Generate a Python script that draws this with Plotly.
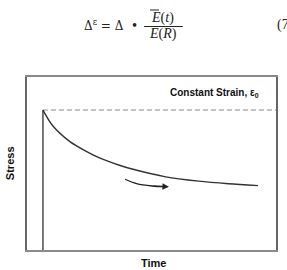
import plotly.graph_objects as go

# Data (arbitrary units: time 0-100, stress 0-100)
time = [6.4, 10.5, 17.1, 23.8, 29.1, 37.1, 42.2, 55.7, 68.9, 80.9, 92.8]
stress = [80.9, 71.5, 62.8, 57.0, 53.2, 49.0, 46.8, 42.3, 39.8, 38.3, 37.2]
strain_level = 80.9
t0 = 6.4
arrow_t = [39.4, 44.0, 50.3, 57.0]
arrow_s = [40.9, 38.4, 37.0, 36.6]

W, H = 287, 270
L, R, T, B = 27, 278, 77, 250


def px(x):
    return (x - L) / (R - L)


def py(y):
    return (B - y) / (B - T)


fig = go.Figure()
# constant strain dashed level
fig.add_trace(go.Scatter(x=[t0, 100], y=[strain_level, strain_level], mode="lines",
                         line=dict(color="#8a8a8a", width=1, dash="5px,3px"),
                         hoverinfo="skip", showlegend=False))
# vertical loading line
fig.add_trace(go.Scatter(x=[t0, t0], y=[0, strain_level], mode="lines",
                         line=dict(color="#555555", width=1.6),
                         hoverinfo="skip", showlegend=False))
# relaxation curve
fig.add_trace(go.Scatter(x=time, y=stress, mode="lines",
                         line=dict(color="#333333", width=1.4, shape="spline", smoothing=0.8),
                         hoverinfo="skip", showlegend=False))
# arrow body
fig.add_trace(go.Scatter(x=arrow_t[:-1] + [arrow_t[-1] - 1.5], y=arrow_s[:-1] + [arrow_s[-1]],
                         mode="lines",
                         line=dict(color="#222222", width=1.3, shape="spline"),
                         hoverinfo="skip", showlegend=False))

annotations = [
    # arrow tip segment with head
    dict(x=arrow_t[-1], y=arrow_s[-1], ax=arrow_t[-2], ay=arrow_s[-2],
         xref="x", yref="y", axref="x", ayref="y", showarrow=True,
         arrowhead=2, arrowsize=1, arrowwidth=1.3, arrowcolor="#222222", text=""),
    dict(x=px(263), y=py(93), xref="paper", yref="paper", xanchor="right", yanchor="middle",
         text="<b>Constant Strain, ε<sub>0</sub></b>", showarrow=False,
         font=dict(family="Liberation Sans, Arial", size=10, color="#111111")),
    dict(x=px(10), y=py(163), xref="paper", yref="paper", xanchor="center", yanchor="middle",
         text="<b>Stress</b>", textangle=-90, showarrow=False,
         font=dict(family="Liberation Sans, Arial", size=11, color="#111111")),
    dict(x=px(155), y=py(263), xref="paper", yref="paper", xanchor="center", yanchor="middle",
         text="<b>Time</b>", showarrow=False,
         font=dict(family="Liberation Sans, Arial", size=11, color="#111111")),
    # equation
    dict(x=px(82), y=py(25), xref="paper", yref="paper", xanchor="left", yanchor="middle",
         text="Δ<sup>ε</sup> = Δ  •", showarrow=False,
         font=dict(family="DejaVu Serif", size=12, color="#222222")),
    dict(x=px(164), y=py(18), xref="paper", yref="paper", xanchor="center", yanchor="middle",
         text="<i>E</i>(<i>t</i>)", showarrow=False,
         font=dict(family="Liberation Serif", size=14, color="#222222")),
    dict(x=px(164), y=py(34), xref="paper", yref="paper", xanchor="center", yanchor="middle",
         text="<i>E</i>(<i>R</i>)", showarrow=False,
         font=dict(family="Liberation Serif", size=14, color="#222222")),
    dict(x=px(277), y=py(25), xref="paper", yref="paper", xanchor="left", yanchor="middle",
         text="(7", showarrow=False,
         font=dict(family="Liberation Serif", size=14, color="#222222")),
]

shapes = [
    # fraction bar
    dict(type="line", xref="paper", yref="paper", x0=px(145), x1=px(184), y0=py(26.5), y1=py(26.5),
         line=dict(color="#222222", width=1)),
    # overline on E
    dict(type="line", xref="paper", yref="paper", x0=px(151), x1=px(160), y0=py(10), y1=py(10),
         line=dict(color="#222222", width=1)),
]

fig.update_layout(
    width=W, height=H,
    margin=dict(l=L, r=W - R, t=T, b=H - B, pad=0),
    paper_bgcolor="white", plot_bgcolor="white",
    xaxis=dict(range=[0, 100], showgrid=False, zeroline=False, showticklabels=False, ticks="",
               showline=True, mirror=True, linecolor="#8a8a8a", linewidth=1.5, fixedrange=True),
    yaxis=dict(range=[0, 100], showgrid=False, zeroline=False, showticklabels=False, ticks="",
               showline=True, mirror=True, linecolor="#666666", linewidth=1.5, fixedrange=True),
    annotations=annotations,
    shapes=shapes,
    showlegend=False,
)

fig.write_html("out.html", config=dict(displayModeBar=False))
